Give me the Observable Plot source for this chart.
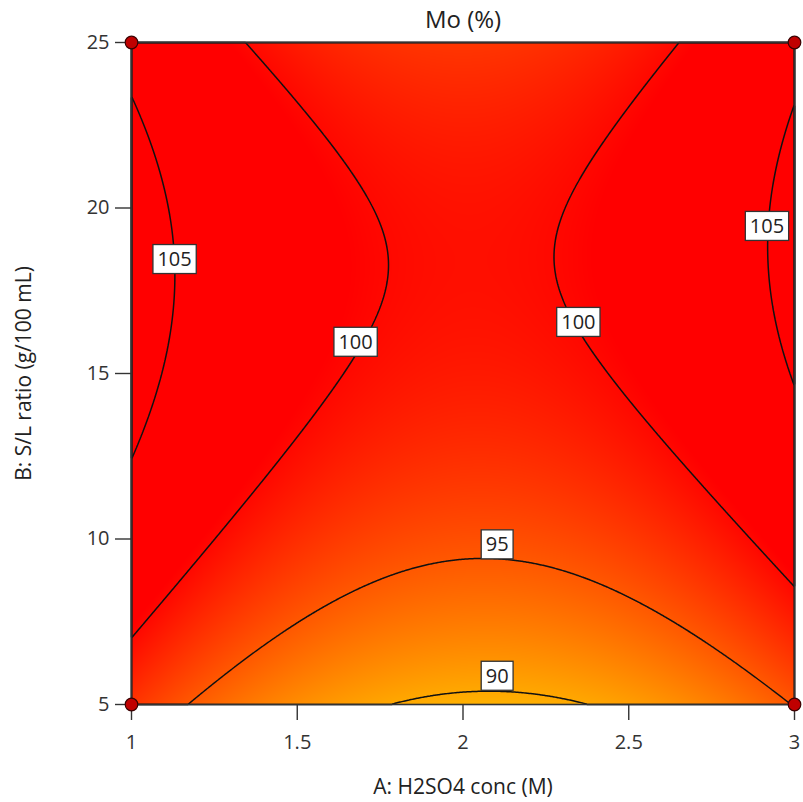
<!DOCTYPE html>
<html>
<head>
<meta charset="utf-8">
<script src="https://cdn.jsdelivr.net/npm/d3@7"></script>
<script src="https://cdn.jsdelivr.net/npm/@observablehq/plot@0.6"></script>
<style>
  html, body { margin: 0; padding: 0; background: #fff; }
  svg { display: block; }
</style>
</head>
<body>
<script>
// Axis ranges and tick labels
const aRange = [1, 3];
const bRange = [5, 25];
const xTicks = [1, 1.5, 2, 2.5, 3];
const yTicks = [5, 10, 15, 20, 25];

// Fitted quadratic model for Mo (%) (coefficients estimated from the contours)
const modelTerms = ["1", "A", "B", "AB", "A^2", "B^2"];
const modelCoefs = [110.25, -28.44, 1.970, 0.0556, 6.77, -0.0566];

// Contour levels and their label positions
const contourLevels = [90, 95, 100, 105];
const labelText = ["105", "100", "100", "105", "95", "90"];
const labelA = [1.13, 1.676, 2.348, 2.917, 2.103, 2.103];
const labelB = [18.44, 15.94, 16.54, 19.44, 9.82, 5.85];

// Design points (corners)
const designA = [1, 1, 3, 3];
const designB = [5, 25, 5, 25];

// Colour ramp
const colorDomain = [89, 100.5];
const colorRange = ["#ffb800", "#ff0000"];

const Mo = (A, B) => {
  const [c0, cA, cB, cAB, cAA, cBB] = modelCoefs;
  return c0 + cA * A + cB * B + cAB * A * B + cAA * A * A + cBB * B * B;
};

const labels = labelText.map((t, i) => ({t, a: labelA[i], b: labelB[i]}));
const design = designA.map((a, i) => ({a, b: designB[i]}));

const chart = Plot.plot({
  width: 803,
  height: 802,
  marginLeft: 131,
  marginRight: 9,
  marginTop: 42,
  marginBottom: 98,
  style: {fontFamily: "'Open Sans', sans-serif", fontSize: "20px", color: "#333", background: "#fff", overflow: "visible"},
  x: {domain: aRange},
  y: {domain: bRange},
  color: {type: "linear", domain: colorDomain, range: colorRange, clamp: true, interpolate: "rgb"},
  marks: [
    Plot.raster({fill: Mo, x1: aRange[0], x2: aRange[1], y1: bRange[0], y2: bRange[1], pixelSize: 1}),
    Plot.contour({value: Mo, x1: aRange[0], x2: aRange[1], y1: bRange[0], y2: bRange[1], pixelSize: 1,
      thresholds: contourLevels, stroke: "#111", strokeWidth: 1.5, fill: "none"}),
    Plot.frame({stroke: "#333", strokeWidth: 1.6}),
    Plot.axisX({ticks: xTicks, tickSize: 16, tickPadding: 14, tickFormat: d => String(d), label: null, fontSize: 20, stroke: "#333", strokeWidth: 1.4}),
    Plot.axisY({ticks: yTicks, tickSize: 16, tickPadding: 6, tickFormat: d => String(d), label: null, fontSize: 20, stroke: "#333", strokeWidth: 1.4}),
    Plot.text(labels, {x: "a", y: "b", text: "t", fontSize: 20, fill: "#222"}),
    Plot.dot(design, {x: "a", y: "b", r: 6.3, fill: "#c00000", stroke: "#3a0000", strokeWidth: 1.2}),
    Plot.text(["Mo (%)"], {text: d => d, frameAnchor: "top", lineAnchor: "middle", textAnchor: "middle", dy: -22, fontSize: 24, fill: "#222"}),
    Plot.text(["A: H2SO4 conc (M)"], {text: d => d, frameAnchor: "bottom", lineAnchor: "middle", textAnchor: "middle", dy: 83, fontSize: 21, fill: "#222"}),
    Plot.text(["B: S/L ratio (g/100 mL)"], {text: d => d, frameAnchor: "left", lineAnchor: "middle", textAnchor: "middle", dx: -107, rotate: -90, fontSize: 21, fill: "#222"})
  ]
});
document.body.appendChild(chart);

// white boxes behind contour labels
const ns = "http://www.w3.org/2000/svg";
chart.querySelectorAll("text").forEach(t => {
  if (!labelText.includes(t.textContent)) return;
  const b = t.getBBox();
  const cy = b.y + b.height / 2;
  const r = document.createElementNS(ns, "rect");
  r.setAttribute("x", b.x - 4.5);
  r.setAttribute("y", cy - 14);
  r.setAttribute("width", b.width + 9);
  r.setAttribute("height", 29);
  r.setAttribute("fill", "#fff");
  r.setAttribute("stroke", "#333");
  r.setAttribute("stroke-width", 1.3);
  const tr = t.getAttribute("transform");
  if (tr) r.setAttribute("transform", tr);
  t.parentNode.insertBefore(r, t);
});
</script>
</body>
</html>
